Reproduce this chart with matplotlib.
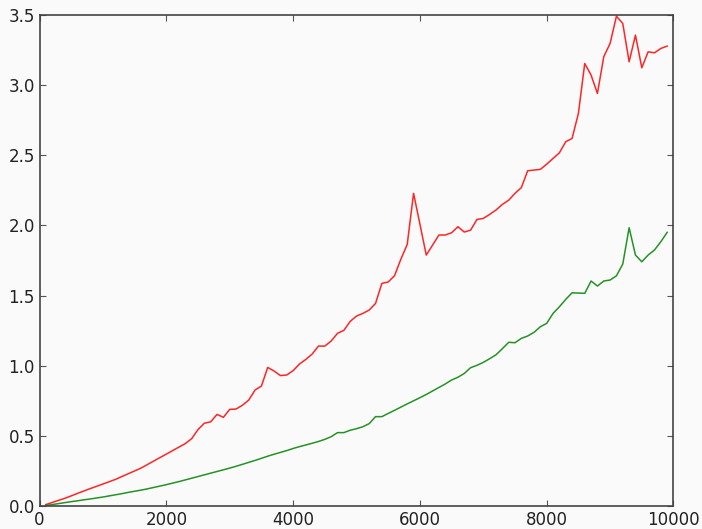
import numpy as np
import matplotlib
matplotlib.use("Agg")
import matplotlib.pyplot as plt

# x positions: 100 .. 9900 step 100
sizes = list(range(100, 10000, 100))

# red series
red_vals = [
    0.010, 0.025, 0.040, 0.055, 0.072, 0.090, 0.107, 0.124, 0.140, 0.157,
    0.173, 0.190, 0.210, 0.230, 0.250, 0.270, 0.295, 0.320, 0.345, 0.370,
    0.395, 0.420, 0.445, 0.480, 0.545, 0.590, 0.600, 0.653, 0.632, 0.689,
    0.691, 0.718, 0.755, 0.827, 0.855, 0.988, 0.962, 0.930, 0.934, 0.965,
    1.012, 1.045, 1.083, 1.140, 1.140, 1.176, 1.231, 1.252, 1.316, 1.354,
    1.373, 1.397, 1.444, 1.587, 1.597, 1.642, 1.760, 1.865, 2.229, 2.010,
    1.789, 1.860, 1.932, 1.932, 1.948, 1.991, 1.953, 1.967, 2.043, 2.050,
    2.079, 2.110, 2.150, 2.180, 2.229, 2.270, 2.390, 2.395, 2.400, 2.437,
    2.478, 2.518, 2.597, 2.620, 2.799, 3.155, 3.072, 2.941, 3.203, 3.298,
    3.492, 3.440, 3.167, 3.357, 3.124, 3.238, 3.231, 3.262, 3.279,
]

# green series
green_vals = [
    0.004, 0.010, 0.017, 0.024, 0.031, 0.037, 0.044, 0.050, 0.057, 0.064,
    0.072, 0.080, 0.088, 0.097, 0.105, 0.113, 0.122, 0.132, 0.142, 0.152,
    0.163, 0.174, 0.186, 0.198, 0.210, 0.222, 0.234, 0.246, 0.258, 0.270,
    0.283, 0.297, 0.311, 0.325, 0.340, 0.355, 0.369, 0.382, 0.395, 0.410,
    0.423, 0.435, 0.447, 0.460, 0.475, 0.494, 0.523, 0.523, 0.540, 0.551,
    0.565, 0.587, 0.637, 0.637, 0.660, 0.682, 0.705, 0.728, 0.750, 0.772,
    0.795, 0.820, 0.845, 0.870, 0.898, 0.918, 0.945, 0.986, 1.003, 1.024,
    1.050, 1.078, 1.121, 1.167, 1.164, 1.195, 1.212, 1.238, 1.278, 1.302,
    1.373, 1.420, 1.473, 1.520, 1.518, 1.516, 1.604, 1.568, 1.604, 1.611,
    1.641, 1.725, 1.984, 1.789, 1.741, 1.789, 1.825, 1.884, 1.951,
]

bg = "#fafafa"
fig = plt.figure(figsize=(7.02, 5.29), dpi=100, facecolor=bg)
ax = fig.add_axes([0.0563, 0.0435, 0.9031, 0.928], facecolor=bg)

ax.plot(sizes, red_vals, color="#ff0000", lw=1.1, alpha=0.85)
ax.plot(sizes, green_vals, color="#008000", lw=1.1, alpha=0.85)

ax.set_xlim(0, 10000)
ax.set_ylim(0, 3.5)
ax.set_xticks([0, 2000, 4000, 6000, 8000, 10000])
ax.set_yticks(np.arange(0, 3.51, 0.5))
ax.yaxis.set_major_formatter(matplotlib.ticker.FormatStrFormatter("%.1f"))

for s in ax.spines.values():
    s.set_color("#444444")
    s.set_linewidth(1.2)
ax.tick_params(direction="in", top=True, right=True, length=4,
               color="#555555", labelsize=12, labelcolor="#222222")

fig.savefig("out.png", dpi=100, facecolor=bg)
